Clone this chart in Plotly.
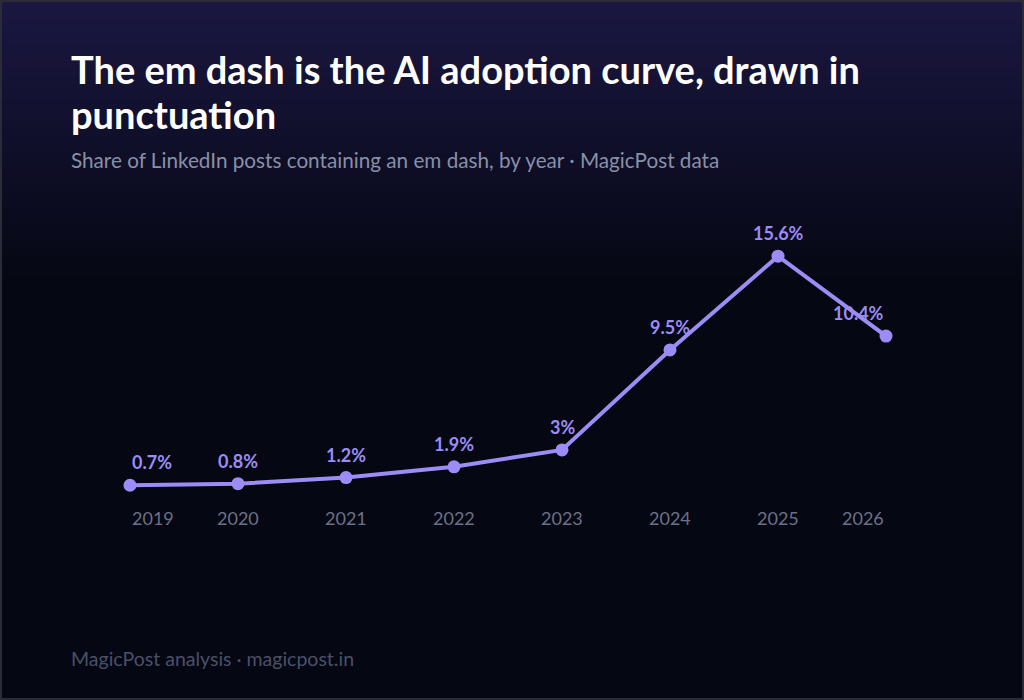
import plotly.graph_objects as go

years = [2019, 2020, 2021, 2022, 2023, 2024, 2025, 2026]
share = [0.7, 0.8, 1.2, 1.9, 3.0, 9.5, 15.6, 10.4]
labels = ["0.7%", "0.8%", "1.2%", "1.9%", "3%", "9.5%", "15.6%", "10.4%"]
tick_labels = [str(y) for y in years]

LINE = "#9c8cf6"
FONT = "Lato"

# plot-area geometry (pixels)
L, T, W, H = 130, 250, 756, 246


def px(x):
    return (x - L) / W


def py(y):
    return (T + H - y) / H


fig = go.Figure()
fig.add_trace(go.Scatter(
    x=years, y=share, mode="lines+markers",
    line=dict(color=LINE, width=4),
    marker=dict(color=LINE, size=13),
    cliponaxis=False, hoverinfo="skip",
))

# background gradient
def lerp(a, b, t):
    return tuple(round(a[i] + (b[i] - a[i]) * t) for i in range(3))


top = (27, 23, 65)
bot = (5, 7, 18)
shapes = []
N = 70
end_px = 290
for i in range(N):
    t = i / (N - 1)
    c = lerp(top, bot, t)
    y_top = end_px * i / N
    y_bot = end_px * (i + 1) / N
    shapes.append(dict(type="rect", xref="paper", yref="paper", x0=px(-10), x1=px(1040),
                       y0=py(y_bot + 1), y1=py(y_top - 1 if i == 0 else y_top),
                       fillcolor="rgb(%d,%d,%d)" % c, line=dict(width=0), layer="below"))
shapes.append(dict(type="rect", xref="paper", yref="paper", x0=px(-10), x1=px(1040),
                   y0=py(710), y1=py(end_px), fillcolor="rgb(%d,%d,%d)" % bot,
                   line=dict(width=0), layer="below"))
# border
shapes.append(dict(type="rect", xref="paper", yref="paper",
                   x0=px(1), x1=px(1023), y0=py(699), y1=py(1),
                   line=dict(color="#2a2d37", width=2), fillcolor="rgba(0,0,0,0)", layer="above"))

ann = []
n = len(years)
for i, (x, y, lab) in enumerate(zip(years, share, labels)):
    anchor = "left" if i == 0 else ("right" if i == n - 1 else "center")
    ann.append(dict(x=x, y=y, xref="x", yref="y", text="<b>%s</b>" % lab, showarrow=False,
                    xanchor=anchor, yanchor="bottom", yshift=10, xshift=0,
                    font=dict(family=FONT, size=18, color=LINE)))
    ann.append(dict(x=x, y=0, xref="x", yref="y", text=tick_labels[i], showarrow=False,
                    xanchor=anchor, yanchor="top", yshift=-9,
                    font=dict(family=FONT, size=18, color="#6c7189")))

ann.append(dict(xref="paper", yref="paper", x=px(69), y=py(44),
                xanchor="left", yanchor="top", align="left", showarrow=False,
                text="<b>The em dash is the AI adoption curve, drawn in</b>",
                font=dict(family=FONT, size=38, color="#ffffff")))
ann.append(dict(xref="paper", yref="paper", x=px(69), y=py(89),
                xanchor="left", yanchor="top", align="left", showarrow=False,
                text="<b>punctuation</b>",
                font=dict(family=FONT, size=38, color="#ffffff")))
ann.append(dict(xref="paper", yref="paper", x=px(69), y=py(146),
                xanchor="left", yanchor="top", align="left", showarrow=False,
                text="Share of LinkedIn posts containing an em dash, by year · MagicPost data",
                font=dict(family=FONT, size=20.7, color="#8890a8")))
ann.append(dict(xref="paper", yref="paper", x=px(69), y=py(645),
                xanchor="left", yanchor="top", align="left", showarrow=False,
                text="MagicPost analysis · magicpost.in",
                font=dict(family=FONT, size=19.5, color="#4b5069")))

fig.update_layout(
    width=1024, height=700,
    margin=dict(l=L, r=1024 - L - W, t=T, b=700 - T - H),
    paper_bgcolor="rgb(5,7,18)", plot_bgcolor="rgba(0,0,0,0)",
    showlegend=False,
    font=dict(family=FONT),
    shapes=shapes,
    annotations=ann,
    xaxis=dict(range=[2019, 2026], visible=False),
    yaxis=dict(range=[0, 16], visible=False),
)

fig.write_html("out.html", config={"displayModeBar": False},
               post_script="document.body.style.margin='0';")
